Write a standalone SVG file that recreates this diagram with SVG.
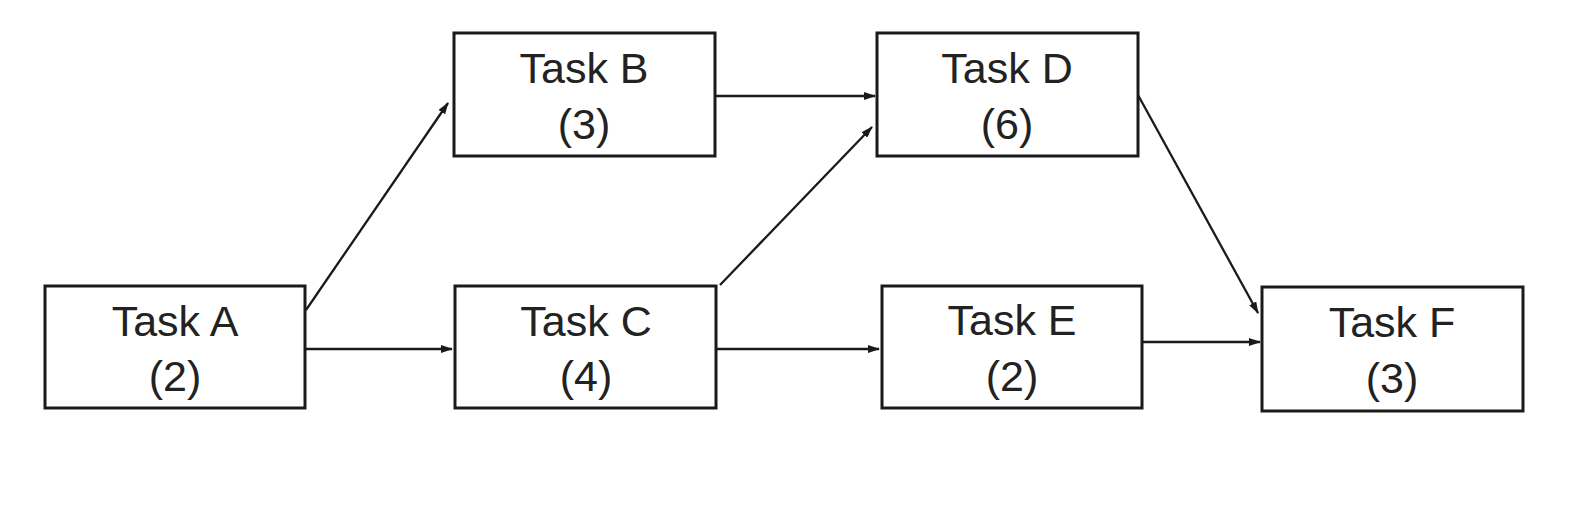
<svg xmlns="http://www.w3.org/2000/svg" width="1579" height="506" viewBox="0 0 1579 506">
<style>
.box{fill:#fff;stroke:#1a1a1a;stroke-width:3}
.lbl{font-family:"Liberation Sans",Arial,sans-serif;font-size:43px;fill:#222;text-anchor:middle}
.edge{fill:none;stroke:#1a1a1a;stroke-width:2.3;marker-end:url(#ah)}
</style>
<defs>
<marker id="ah" markerUnits="userSpaceOnUse" markerWidth="12" markerHeight="8" refX="11" refY="4" orient="auto">
<path d="M0,0 L12,4 L0,8 z" fill="#1a1a1a"/>
</marker>
</defs>
<rect width="1579" height="506" fill="#fff"/>
<g id="connectors">
<line class="edge" x1="306" y1="349" x2="452" y2="349"/>
<line class="edge" x1="306" y1="310" x2="448" y2="103"/>
<line class="edge" x1="716" y1="96" x2="875" y2="96"/>
<line class="edge" x1="720" y1="285" x2="872" y2="127"/>
<line class="edge" x1="717" y1="349" x2="879" y2="349"/>
<line class="edge" x1="1138" y1="95" x2="1258" y2="313"/>
<line class="edge" x1="1143" y1="342" x2="1260" y2="342"/>
</g>
<g id="taskA"><rect class="box" x="45" y="286" width="260" height="122"/><text class="lbl" x="175" y="336">Task A</text><text class="lbl" x="175" y="391">(2)</text></g>
<g id="taskB"><rect class="box" x="454" y="33" width="261" height="123"/><text class="lbl" x="584" y="83">Task B</text><text class="lbl" x="584" y="139">(3)</text></g>
<g id="taskC"><rect class="box" x="455" y="286" width="261" height="122"/><text class="lbl" x="586" y="336">Task C</text><text class="lbl" x="586" y="391">(4)</text></g>
<g id="taskD"><rect class="box" x="877" y="33" width="261" height="123"/><text class="lbl" x="1007" y="83">Task D</text><text class="lbl" x="1007" y="139">(6)</text></g>
<g id="taskE"><rect class="box" x="882" y="286" width="260" height="122"/><text class="lbl" x="1012" y="335">Task E</text><text class="lbl" x="1012" y="391">(2)</text></g>
<g id="taskF"><rect class="box" x="1262" y="287" width="261" height="124"/><text class="lbl" x="1392" y="337">Task F</text><text class="lbl" x="1392" y="393">(3)</text></g>
</svg>
